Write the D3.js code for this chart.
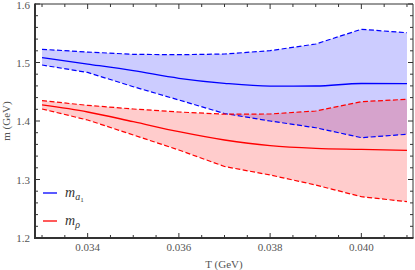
<!DOCTYPE html>
<html><head><meta charset="utf-8">
<script src="https://cdn.jsdelivr.net/npm/d3@7"></script>
<style>body{margin:0;background:#fff}svg{display:block}</style>
</head><body>
<script>
const temps = [0.033,0.034,0.035,0.036,0.037,0.038,0.039,0.040,0.041];
const a1Upper = [1.5226,1.5179,1.5140,1.5133,1.5145,1.5202,1.5316,1.5568,1.5509];
const a1Mid   = [1.5085,1.4974,1.4860,1.4730,1.4644,1.4597,1.4598,1.4641,1.4638];
const a1Lower = [1.4957,1.4830,1.4586,1.4359,1.4128,1.4000,1.3885,1.3715,1.3773];
const rhoUpper = [1.4347,1.4268,1.4205,1.4154,1.4116,1.4120,1.4171,1.4330,1.4371];
const rhoMid   = [1.4274,1.4154,1.3988,1.3817,1.3675,1.3578,1.3533,1.3516,1.3499];
const rhoLower = [1.4205,1.4017,1.3761,1.3504,1.3222,1.3077,1.2906,1.2706,1.2621];
const xTicks = [0.034,0.036,0.038,0.040];
const yTicks = [1.2,1.3,1.4,1.5,1.6];

const W=415,H=270;
const L=35,R=413,T=4,B=238;
const x=d3.scaleLinear().domain([0.032846,0.041132]).range([L,R]);
const y=d3.scaleLinear().domain([1.2,1.6]).range([B,T]);
const svg=d3.select("body").append("svg").attr("width",W).attr("height",H);

const series=[
 {up:a1Upper,mid:a1Mid,lo:a1Lower,color:"#0000ff",fill:"rgba(0,0,255,0.2)"},
 {up:rhoUpper,mid:rhoMid,lo:rhoLower,color:"#ff0000",fill:"rgba(255,0,0,0.2)"}
];
const area=d3.area().x(d=>x(d.t)).y0(d=>y(d.lo)).y1(d=>y(d.up));
const line=d3.line().x(d=>x(d.t)).y(d=>y(d.v));
const smooth=d3.line().x(d=>x(d.t)).y(d=>y(d.v)).curve(d3.curveMonotoneX);
series.forEach(s=>{
  const pts=temps.map((t,i)=>({t,lo:s.lo[i],up:s.up[i]}));
  svg.append("path").attr("d",area(pts)).attr("fill",s.fill);
});
series.forEach(s=>{
  [s.up,s.lo].forEach(arr=>{
    svg.append("path").attr("d",line(temps.map((t,i)=>({t,v:arr[i]}))))
      .attr("fill","none").attr("stroke",s.color).attr("stroke-width",1.2)
      .attr("stroke-dasharray","5,2.5");
  });
  svg.append("path").attr("d",smooth(temps.map((t,i)=>({t,v:s.mid[i]}))))
    .attr("fill","none").attr("stroke",s.color).attr("stroke-width",1.3);
});

// frame and ticks
const fc="#333";
const fr=svg.append("g");
fr.append("line").attr("x1",L).attr("x2",R).attr("y1",T).attr("y2",T).attr("stroke",fc).attr("stroke-width",1);
fr.append("line").attr("x1",R).attr("x2",R).attr("y1",T).attr("y2",B).attr("stroke",fc).attr("stroke-width",1);
fr.append("line").attr("x1",L-1).attr("x2",R+0.5).attr("y1",B).attr("y2",B).attr("stroke",fc).attr("stroke-width",2);
fr.append("line").attr("x1",L).attr("x2",L).attr("y1",T-0.5).attr("y2",B+1).attr("stroke",fc).attr("stroke-width",2);
const xMinor=d3.range(0.033,0.04101,0.0005);
const yMinor=d3.range(1.2,1.6001,0.02);
xMinor.forEach(v=>{
  const major=xTicks.some(t=>Math.abs(t-v)<1e-7);
  const len=major?5:3;
  fr.append("line").attr("x1",x(v)).attr("x2",x(v)).attr("y1",B).attr("y2",B-len).attr("stroke",fc);
  fr.append("line").attr("x1",x(v)).attr("x2",x(v)).attr("y1",T).attr("y2",T+len).attr("stroke",fc);
});
yMinor.forEach(v=>{
  const major=yTicks.some(t=>Math.abs(t-v)<1e-7);
  const len=major?5:3;
  fr.append("line").attr("y1",y(v)).attr("y2",y(v)).attr("x1",L).attr("x2",L+len).attr("stroke",fc);
  fr.append("line").attr("y1",y(v)).attr("y2",y(v)).attr("x1",R).attr("x2",R-len).attr("stroke",fc);
});
const font="'Liberation Serif','DejaVu Serif',serif";
const tc="#555";
xTicks.forEach(v=>{
  svg.append("text").attr("x",x(v)).attr("y",251).attr("text-anchor","middle")
   .attr("font-family",font).attr("font-size",11).attr("fill",tc).text(v.toFixed(3));
});
yTicks.forEach(v=>{
  svg.append("text").attr("x",30).attr("y",Math.max(y(v)+4,9)).attr("text-anchor","end")
   .attr("font-family",font).attr("font-size",11).attr("fill",tc).text(v.toFixed(1));
});
svg.append("text").attr("x",(L+R)/2).attr("y",268).attr("text-anchor","middle")
  .attr("font-family",font).attr("font-size",11).attr("fill",tc).text("T (GeV)");
svg.append("text").attr("transform",`translate(10,${(T+B)/2}) rotate(-90)`).attr("text-anchor","middle")
  .attr("font-family",font).attr("font-size",11).attr("fill",tc).text("m (GeV)");

// legend
const legend=[{c:"#0000ff",sub:"a",sub2:"1"},{c:"#ff0000",sub:"ρ",sub2:""}];
legend.forEach((d,i)=>{
  const ly=193+i*28;
  svg.append("line").attr("x1",43).attr("x2",57).attr("y1",ly).attr("y2",ly).attr("stroke",d.c).attr("stroke-width",1.3);
  const t=svg.append("text").attr("x",65).attr("y",ly+4).attr("font-family",font).attr("font-size",14).attr("font-style","italic").attr("fill","#333");
  t.append("tspan").text("m");
  t.append("tspan").attr("font-size",10).attr("dy",3).text(d.sub);
  if(d.sub2) t.append("tspan").attr("font-size",7).attr("font-style","normal").attr("dy",2).text(d.sub2);
});
</script>
</body></html>
